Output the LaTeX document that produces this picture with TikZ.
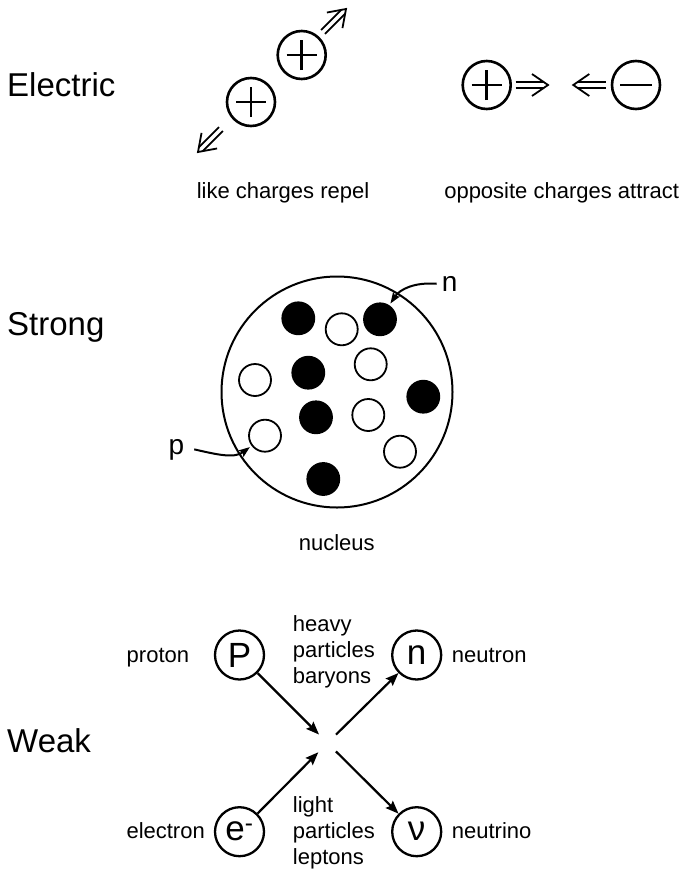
\documentclass[tikz,border=0pt]{standalone}
\usepackage{fontspec}
\setmainfont{Liberation Sans}
\usetikzlibrary{arrows.meta}
\begin{document}
\begin{tikzpicture}[x=1pt,y=-1pt,
  big/.style={font=\fontsize{33}{40}\selectfont, inner sep=0pt},
  small/.style={font=\fontsize{22}{26}\selectfont, inner sep=0pt},
  lbl/.style={font=\fontsize{28}{32}\selectfont, inner sep=0pt},
  charge/.style={circle, draw, line width=2.6pt, minimum size=48pt, inner sep=0pt},
  sign/.style={line width=2.8pt},
  ball/.style={circle, draw, line width=1.8pt, minimum size=32pt, inner sep=0pt},
  wball/.style={ball, fill=white},
  bball/.style={ball, fill=black},
  part/.style={circle, draw, line width=2.3pt, minimum size=49pt, inner sep=0pt, font=\fontsize{35}{40}\selectfont},
  wkarr/.style={line width=2.2pt, -{Stealth[length=13pt,width=10pt,inset=2pt]}},
  nuarr/.style={line width=2pt, -{Stealth[length=11pt,width=8pt,inset=2pt]}},
  dblarr/.pic={
    \draw[line width=1.8pt, line join=miter] (-16,-11) -- (0,0) -- (-16,11);
    \draw[line width=1.8pt] (-32.5,-2.7) -- (-4,-2.7) (-32.5,2.7) -- (-4,2.7);
  }
]
\useasboundingbox (0,0) rectangle (682,870);

% ---------- Electric ----------
\node[big, anchor=base west] (el) at (7,96) {Electric};
\node[charge] (c1) at (251,102) {};
\node[charge] (c2) at (301.7,55) {};
\foreach \c in {c1,c2}{
  \draw[sign] ([xshift=-15pt]\c.center) -- ([xshift=15pt]\c.center);
  \draw[sign] ([yshift=-15pt]\c.center) -- ([yshift=15pt]\c.center);
}
\pic[rotate=45] at (346,9) {dblarr};
\pic[rotate=225] at (198,152) {dblarr};
\node[small, anchor=base] (lcr) at (283,198) {like charges repel};

\node[charge] (c3) at (486.7,85) {};
\node[charge] (c4) at (636,85) {};
\draw[sign] ([xshift=-15pt]c3.center) -- ([xshift=15pt]c3.center);
\draw[sign] ([yshift=-15pt]c3.center) -- ([yshift=15pt]c3.center);
\draw[sign] ([xshift=-16pt]c4.center) -- ([xshift=16pt]c4.center);
\pic at (548,85) {dblarr};
\pic[rotate=180] at (573.3,85) {dblarr};
\node[small, anchor=base] (oca) at (561.7,198) {opposite charges attract};

% ---------- Strong ----------
\node[big, anchor=base west] (st) at (7,335) {Strong};
\node[circle, draw, line width=2pt, minimum size=231pt] (nuc) at (337,392) {};
\node[bball] (b1) at (298.3,318.3) {};
\node[wball] (w1) at (341.7,329.3) {};
\node[bball] (b2) at (380,319.3) {};
\node[wball] (w2) at (370.7,364.3) {};
\node[bball] (b3) at (308.3,372.7) {};
\node[wball] (w3) at (255,380) {};
\node[bball] (b4) at (423.3,396.7) {};
\node[bball] (b5) at (316,417.3) {};
\node[wball] (w4) at (368.3,415) {};
\node[wball] (w5) at (265,435.7) {};
\node[wball] (w6) at (400,451.7) {};
\node[bball] (b6) at (323.3,479) {};
\node[small, anchor=base] (nucl) at (336.7,550.7) {nucleus};
\node[lbl, anchor=base west] (nlab) at (441.7,291.3) {n};
\node[lbl, anchor=base west] (plab) at (168.3,454) {p};
\draw[nuarr, shorten >=2pt] ([xshift=-5pt]nlab.west) .. controls (415,282) and (400,289) .. (b2);
\draw[nuarr, shorten >=2pt] ([xshift=10pt]plab.east) .. controls (215,454) and (234,459) .. (w5);

% ---------- Weak ----------
\node[big, anchor=base west] (wk) at (7,752) {Weak};
\node[part] (P) at (239.5,655) {P};
\node[part] (N) at (416.7,655) {n};
\node[part] (E) at (239.5,831.7) {e\textsuperscript{-}};
\node[part] (V) at (416.7,831.7) {ν};
\coordinate (X) at (327.5,743);
\draw[wkarr, shorten >=12pt] (P) -- (X);
\draw[wkarr, shorten <=12pt] (X) -- (N);
\draw[wkarr, shorten >=13pt] (E) -- (X);
\draw[wkarr, shorten <=12pt] (X) -- (V);
\node[small, anchor=base east] (prl) at (189.3,662) {proton};
\node[small, anchor=base west] (nel) at (451.7,662) {neutron};
\node[small, anchor=base east] (ell) at (205,838) {electron};
\node[small, anchor=base west] (nul) at (451.7,838) {neutrino};
\node[small, anchor=base west, align=left] (hv) at (292.7,683.7) {heavy\\particles\\baryons};
\node[small, anchor=base west, align=left] (lt) at (292.7,864) {light\\particles\\leptons};
\end{tikzpicture}
\end{document}
